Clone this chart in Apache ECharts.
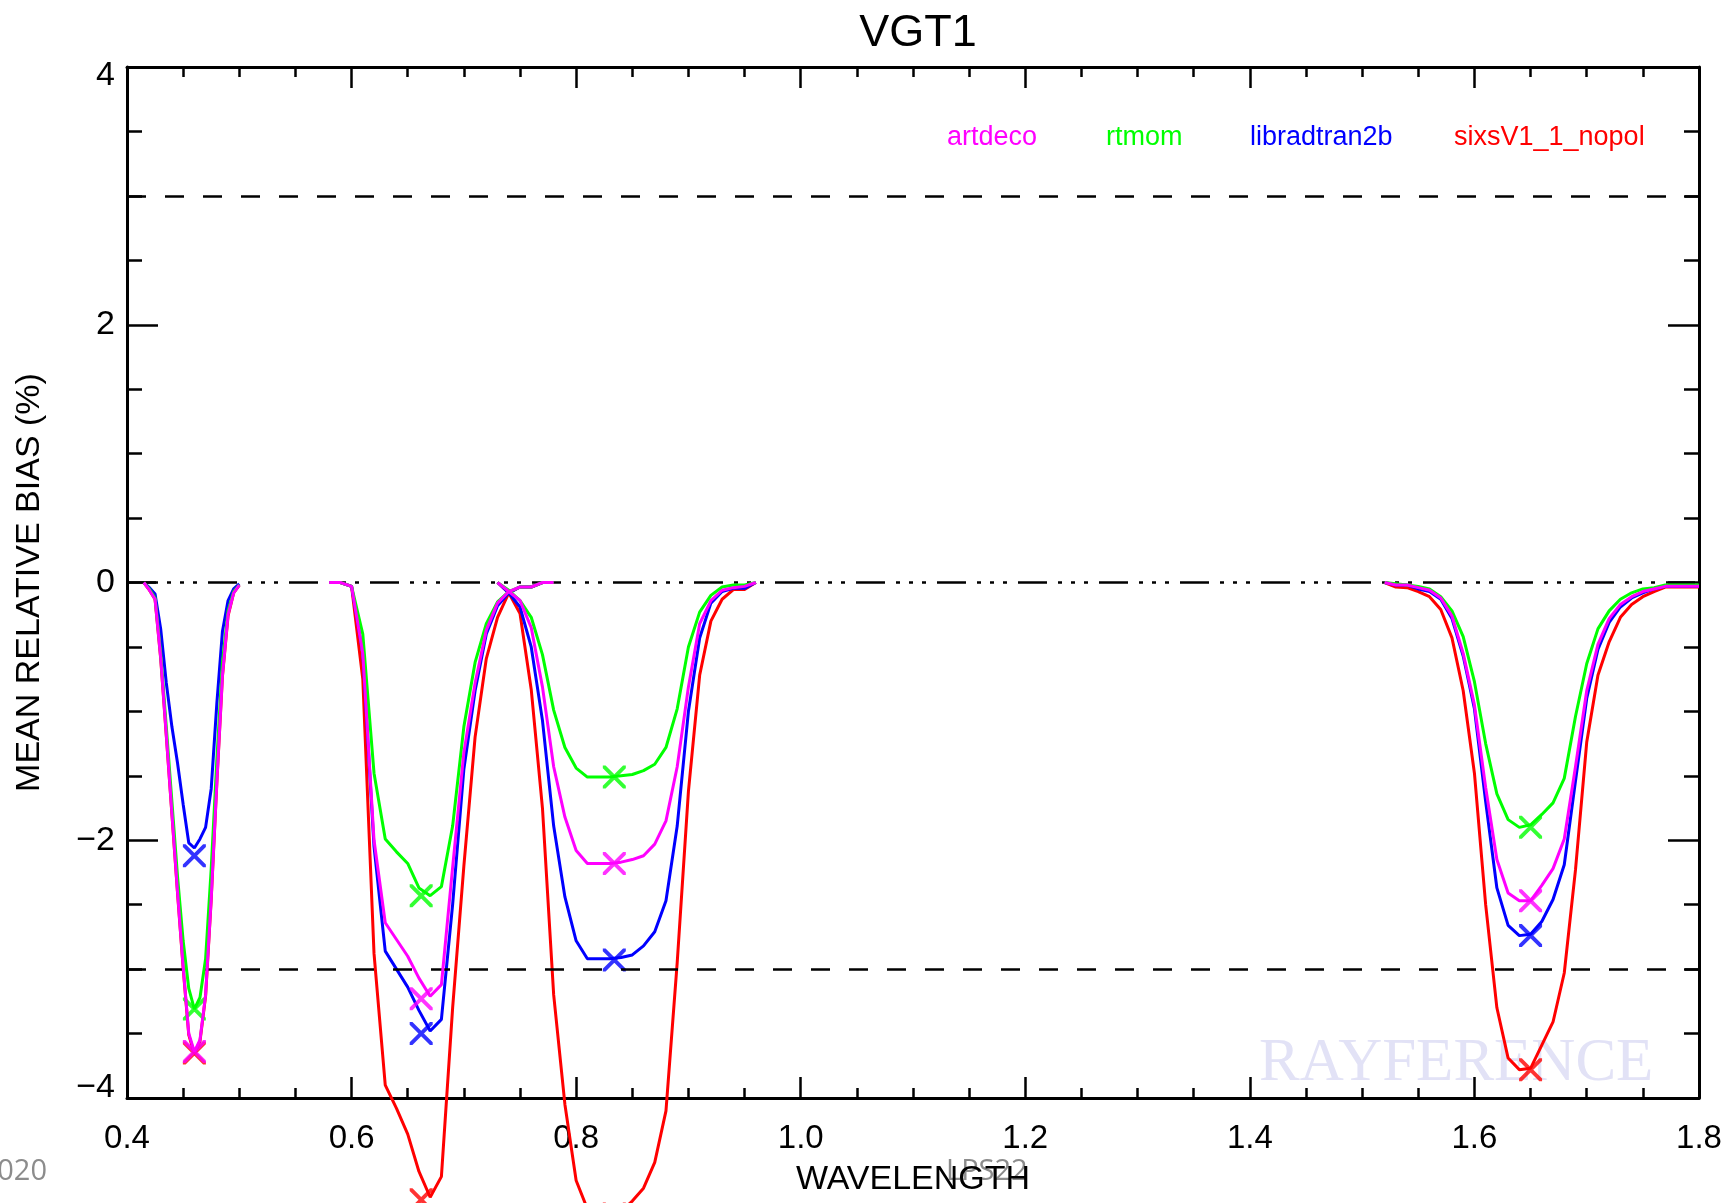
<!DOCTYPE html>
<html style="height: 100%">
<head>
<meta charset="utf-8">
<script type="text/javascript" src="https://cdn.jsdelivr.net/npm/echarts@6/dist/echarts.min.js"></script>
</head>
<body style="height: 100%; margin: 0; background: #fff">
<div id="container" style="width: 1728px; height: 1203px"></div>
<script type="text/javascript">
// wavelength grids of the four VGT1 bands (micron)
var wl1 = [0.415, 0.42, 0.425, 0.43, 0.435, 0.44, 0.445, 0.45, 0.455, 0.46, 0.465, 0.47, 0.475, 0.48, 0.485, 0.49, 0.495, 0.50];
var wl2 = [0.58, 0.59, 0.60, 0.61, 0.62, 0.63, 0.64, 0.65, 0.66, 0.67, 0.68, 0.69, 0.70, 0.71, 0.72, 0.73, 0.74, 0.75, 0.76, 0.77, 0.78];
var wl3 = [0.73, 0.74, 0.75, 0.76, 0.77, 0.78, 0.79, 0.80, 0.81, 0.82, 0.83, 0.84, 0.85, 0.86, 0.87, 0.88, 0.89, 0.90, 0.91, 0.92, 0.93, 0.94, 0.95, 0.96];
var wl4 = [1.52, 1.53, 1.54, 1.55, 1.56, 1.57, 1.58, 1.59, 1.60, 1.61, 1.62, 1.63, 1.64, 1.65, 1.66, 1.67, 1.68, 1.69, 1.70, 1.71, 1.72, 1.73, 1.74, 1.75, 1.76, 1.77, 1.78, 1.79, 1.80];

// mean relative bias (%) per model, one list per band
var artdeco1 = [0, -0.06, -0.13, -0.58, -1.18, -1.79, -2.40, -2.98, -3.50, -3.64, -3.55, -3.20, -2.45, -1.55, -0.72, -0.25, -0.08, -0.02];
var artdeco2 = [0, 0, -0.03, -0.55, -2.00, -2.64, -2.77, -2.90, -3.07, -3.21, -3.12, -2.21, -1.32, -0.78, -0.37, -0.16, -0.07, -0.035, -0.035, 0, 0];
var artdeco3 = [0, -0.07, -0.14, -0.35, -0.81, -1.43, -1.82, -2.08, -2.18, -2.18, -2.18, -2.17, -2.15, -2.12, -2.03, -1.85, -1.43, -0.81, -0.32, -0.14, -0.06, -0.04, -0.03, 0];
var artdeco4 = [0, -0.02, -0.02, -0.04, -0.06, -0.12, -0.26, -0.55, -0.95, -1.59, -2.15, -2.41, -2.47, -2.47, -2.35, -2.22, -1.99, -1.43, -0.84, -0.48, -0.28, -0.17, -0.11, -0.07, -0.05, -0.03, -0.03, -0.03, -0.03];

var rtmom1 = [0, -0.05, -0.12, -0.55, -1.12, -1.70, -2.28, -2.78, -3.15, -3.31, -3.22, -2.92, -2.22, -1.38, -0.62, -0.22, -0.07, -0.02];
var rtmom2 = [0, 0, -0.03, -0.40, -1.48, -1.99, -2.09, -2.18, -2.37, -2.43, -2.36, -1.89, -1.12, -0.62, -0.32, -0.15, -0.07, -0.035, -0.035, 0, 0];
var rtmom3 = [0, -0.06, -0.14, -0.27, -0.56, -0.99, -1.28, -1.44, -1.51, -1.51, -1.51, -1.50, -1.49, -1.46, -1.41, -1.28, -0.98, -0.50, -0.23, -0.10, -0.035, -0.02, -0.02, 0];
var rtmom4 = [0, -0.01, -0.02, -0.03, -0.05, -0.11, -0.22, -0.42, -0.77, -1.25, -1.64, -1.84, -1.90, -1.88, -1.80, -1.71, -1.52, -1.04, -0.63, -0.36, -0.22, -0.13, -0.08, -0.05, -0.04, -0.02, -0.02, -0.02, -0.02];

var librad1 = [0, -0.04, -0.09, -0.36, -0.78, -1.12, -1.40, -1.72, -2.02, -2.06, -1.99, -1.90, -1.60, -0.94, -0.38, -0.14, -0.05, -0.01];
var librad2 = [0, 0, -0.03, -0.55, -2.05, -2.86, -3.00, -3.14, -3.32, -3.48, -3.39, -2.50, -1.45, -0.84, -0.40, -0.18, -0.08, -0.035, -0.035, 0, 0];
var librad3 = [0, -0.08, -0.19, -0.50, -1.07, -1.89, -2.44, -2.78, -2.92, -2.92, -2.92, -2.91, -2.89, -2.82, -2.71, -2.47, -1.89, -1.00, -0.43, -0.16, -0.07, -0.045, -0.045, 0];
var librad4 = [0, -0.02, -0.02, -0.05, -0.07, -0.13, -0.28, -0.57, -0.98, -1.70, -2.37, -2.66, -2.74, -2.73, -2.63, -2.46, -2.19, -1.54, -0.90, -0.52, -0.31, -0.19, -0.12, -0.08, -0.05, -0.03, -0.03, -0.03, -0.03];

var sixs1 = [0, -0.06, -0.13, -0.59, -1.19, -1.80, -2.41, -2.99, -3.51, -3.66, -3.56, -3.21, -2.46, -1.56, -0.73, -0.26, -0.08, -0.02];
var sixs2 = [0, 0, -0.03, -0.75, -2.88, -3.90, -4.08, -4.28, -4.57, -4.77, -4.61, -3.30, -2.20, -1.20, -0.59, -0.27, -0.08, -0.035, -0.035, 0, 0];
var sixs3 = [0, -0.08, -0.24, -0.83, -1.75, -3.20, -4.05, -4.64, -4.86, -4.92, -4.93, -4.88, -4.80, -4.70, -4.50, -4.10, -2.95, -1.62, -0.72, -0.30, -0.13, -0.055, -0.055, 0];
var sixs4 = [0, -0.035, -0.04, -0.07, -0.11, -0.21, -0.43, -0.84, -1.48, -2.50, -3.30, -3.69, -3.78, -3.77, -3.59, -3.41, -3.03, -2.23, -1.24, -0.72, -0.46, -0.27, -0.17, -0.11, -0.07, -0.035, -0.035, -0.035, -0.035];

// band-averaged values (the X markers)
var markerWl = [0.46, 0.662, 0.834, 1.65];
var artdecoX = [-3.64, -3.23, -2.18, -2.47];
var rtmomX = [-3.31, -2.43, -1.51, -1.90];
var libradX = [-2.12, -3.50, -2.93, -2.74];
var sixsX = [-3.65, -4.79, -4.90, -3.78];

var limitLevels = [3, -3];
var zeroLevel = 0;

var FONT = '"Liberation Sans", Arial, sans-serif';
var XMARK = 'path://M0,0L2.4,0L20,17.6L20,20L17.6,20L0,2.4ZM17.6,0L20,0L20,2.4L2.4,20L0,20L0,17.6Z';

// drawing order: red under, magenta on top
var models = [
    { name: 'sixsV1_1_nopol', color: '#ff0000', bands: [sixs1, sixs2, sixs3, sixs4], marks: sixsX },
    { name: 'libradtran2b', color: '#0000ff', bands: [librad1, librad2, librad3, librad4], marks: libradX },
    { name: 'rtmom', color: '#00ff00', bands: [rtmom1, rtmom2, rtmom3, rtmom4], marks: rtmomX },
    { name: 'artdeco', color: '#ff00ff', bands: [artdeco1, artdeco2, artdeco3, artdeco4], marks: artdecoX }
];
var grids = [wl1, wl2, wl3, wl4];

function pairs(xs, ys) {
    var out = [];
    for (var i = 0; i < xs.length; i++) out.push([xs[i], ys[i]]);
    return out;
}

var series = [];
series.push({
    name: 'ref', type: 'line', data: [], silent: true,
    markLine: {
        silent: true, symbol: ['none', 'none'], label: { show: false },
        lineStyle: { color: '#000', width: 2.5 },
        data: [
            { yAxis: limitLevels[0], lineStyle: { type: [19, 19] } },
            { yAxis: limitLevels[1], lineStyle: { type: [19, 19] } },
            { yAxis: zeroLevel, lineStyle: { type: [29, 11, 4, 9, 4, 9, 4, 11] } }
        ]
    }
});
models.forEach(function (m, k) {
    for (var b = 0; b < 4; b++) {
        series.push({
            name: m.name, type: 'line', data: pairs(grids[b], m.bands[b]),
            showSymbol: false, symbol: 'none', clip: false, z: 3 + k,
            lineStyle: { color: m.color, width: 3 }, itemStyle: { color: m.color }
        });
    }
    series.push({
        name: m.name, type: 'scatter', data: pairs(markerWl, m.marks),
        symbol: XMARK, symbolSize: 23, clip: false, z: 3 + k,
        itemStyle: { color: m.color }
    });
});

// one legend box per entry, placed where the reference labels sit
function legendItem(name, color, left) {
    return {
        data: [{ name: name, textStyle: { color: color } }],
        left: left, top: 124, padding: 0, icon: 'none', itemWidth: 0, itemHeight: 0,
        selectedMode: false,
        textStyle: { fontFamily: FONT, fontSize: 27 }
    };
}

var dom = document.getElementById('container');
var myChart = echarts.init(dom);
var option = {
    animation: false,
    backgroundColor: '#fff',
    title: {
        text: 'VGT1', left: 913, top: 6, textAlign: 'center',
        textStyle: { fontFamily: FONT, fontSize: 45, fontWeight: 'normal', color: '#000' }
    },
    legend: [
        legendItem('artdeco', '#ff00ff', 942),
        legendItem('rtmom', '#00ff00', 1101),
        legendItem('libradtran2b', '#0000ff', 1245),
        legendItem('sixsV1_1_nopol', '#ff0000', 1449)
    ],
    grid: { left: 127, right: 29, top: 67, bottom: 105 },
    xAxis: [{
        type: 'value', min: 0.4, max: 1.8, interval: 0.2, position: 'bottom',
        name: 'WAVELENGTH', nameLocation: 'middle', nameGap: 65,
        nameTextStyle: { fontFamily: FONT, fontSize: 34, color: '#000' },
        axisLine: { onZero: false, lineStyle: { color: '#000', width: 3 } },
        axisTick: { inside: true, length: 21, lineStyle: { width: 2.5 } },
        minorTick: { show: true, splitNumber: 4, length: 10, lineStyle: { color: '#000', width: 2.5 } },
        splitLine: { show: false },
        axisLabel: {
            margin: 24, fontFamily: FONT, fontSize: 33, color: '#000',
            showMinLabel: true, showMaxLabel: true,
            formatter: function (v) { return v.toFixed(1); }
        }
    }, {
        type: 'value', min: 0.4, max: 1.8, interval: 0.2, position: 'top',
        axisLine: { onZero: false, lineStyle: { color: '#000', width: 3 } },
        axisTick: { inside: true, length: 21, lineStyle: { width: 2.5 } },
        minorTick: { show: true, splitNumber: 4, length: 10, lineStyle: { color: '#000', width: 2.5 } },
        splitLine: { show: false },
        axisLabel: { show: false }
    }],
    yAxis: [{
        type: 'value', min: -4, max: 4, interval: 2, position: 'left',
        name: 'MEAN RELATIVE BIAS (%)', nameLocation: 'middle', nameGap: 80,
        nameTextStyle: { fontFamily: FONT, fontSize: 34, color: '#000' },
        axisLine: { onZero: false, lineStyle: { color: '#000', width: 3 } },
        axisTick: { inside: true, length: 31, lineStyle: { width: 2.5 } },
        minorTick: { show: true, splitNumber: 4, length: 15, lineStyle: { color: '#000', width: 2.5 } },
        splitLine: { show: false },
        axisLabel: {
            margin: 12, fontFamily: FONT, fontSize: 34, color: '#000',
            showMinLabel: true, showMaxLabel: true,
            formatter: function (v) {
                if (v === 4) return '{hi|4}';
                if (v === -4) return '{lo|\u22124}';
                return String(v).replace('-', '\u2212');
            },
            rich: {
                hi: { fontFamily: FONT, fontSize: 34, color: '#000', padding: [18, 0, 0, 0] },
                lo: { fontFamily: FONT, fontSize: 34, color: '#000', padding: [0, 0, 20, 0] }
            }
        }
    }, {
        type: 'value', min: -4, max: 4, interval: 2, position: 'right',
        axisLine: { onZero: false, lineStyle: { color: '#000', width: 3 } },
        axisTick: { inside: true, length: 31, lineStyle: { width: 2.5 } },
        minorTick: { show: true, splitNumber: 4, length: 15, lineStyle: { color: '#000', width: 2.5 } },
        splitLine: { show: false },
        axisLabel: { show: false }
    }],
    graphic: [
        { type: 'text', x: 1259, y: 1033, z: -5, silent: true,
          style: { text: 'RAYFERENCE', font: '61px "Liberation Serif", "Times New Roman", serif', fill: '#e2e2f6' } },
        { type: 'text', x: 946, y: 1157, z: -5, silent: true,
          style: { text: 'LPS22', font: '29px "Open Sans", sans-serif', fill: '#8c8c8c' } },
        { type: 'text', x: 47, y: 1157, z: -5, silent: true,
          style: { text: '2020', font: '29px "Open Sans", sans-serif', fill: '#8c8c8c', textAlign: 'right' } }
    ],
    series: series
};
myChart.setOption(option, true);
</script>
</body>
</html>
